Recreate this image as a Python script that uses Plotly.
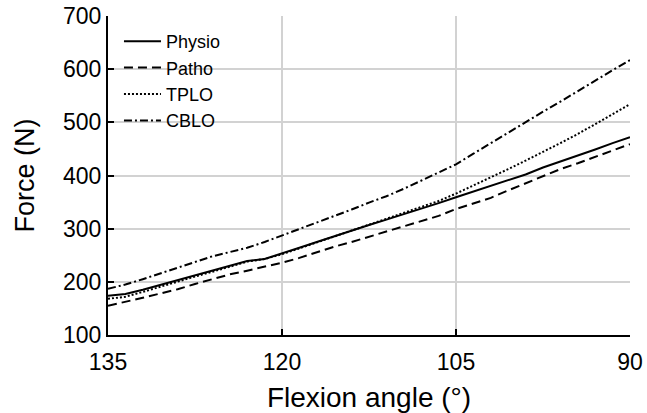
import plotly.graph_objects as go

angle = [135, 133.5, 132, 130.5, 129, 127.5, 126, 124.5, 123, 121.5, 120, 118.5, 117, 115.5,
         114, 112.5, 111, 109.5, 108, 106.5, 105, 103.5, 102, 100.5, 99, 97.5, 96, 94.5, 93, 91.5, 90]

physio = [174, 177, 185, 194, 203, 211, 220, 230, 239, 243, 253, 264, 275, 286,
          297, 307, 317, 327, 337, 348, 359, 370, 380, 391, 402, 415, 426, 438, 449, 461, 472]
patho = [155, 162, 170, 178, 186, 196, 205, 214, 221, 228, 236, 245, 256, 266,
         275, 285, 295, 305, 315, 324, 337, 348, 358, 372, 385, 399, 412, 423, 435, 447, 459]
tplo = [168, 172, 181, 191, 201, 210, 219, 229, 238, 243, 252, 263, 274, 285,
        296, 307, 318, 329, 340, 352, 366, 381, 396, 412, 428, 444, 461, 478, 497, 515, 534]
cblo = [187, 195, 205, 216, 226, 238, 248, 256, 264, 275, 287, 299, 311, 323,
        336, 349, 361, 375, 390, 405, 421, 441, 461, 481, 500, 520, 539, 559, 578, 598, 617]

series = [
    ("Physio", physio, "solid"),
    ("Patho", patho, "9px,5px"),
    ("TPLO", tplo, "2px,2px"),
    ("CBLO", cblo, "8px,3px,2px,3px"),
]

x_ticks = [135, 120, 105, 90]
y_ticks = [100, 200, 300, 400, 500, 600, 700]

fig = go.Figure()
for name, vals, dash in series:
    fig.add_trace(go.Scatter(x=angle, y=vals, mode="lines", name=name,
                             line=dict(color="black", width=2, dash=dash)))

font_family = "Liberation Sans, Arial, sans-serif"
fig.update_layout(
    width=647, height=413,
    margin=dict(l=108, r=17, t=16, b=78),
    plot_bgcolor="white", paper_bgcolor="white",
    font=dict(family=font_family, color="black"),
    showlegend=True,
    legend=dict(x=0.021, y=0.978, xanchor="left", yanchor="top",
                bgcolor="rgba(0,0,0,0)", font=dict(size=18, family=font_family),
                itemwidth=37),
)
fig.update_xaxes(
    range=[135, 90], tickvals=x_ticks, ticktext=[str(v) for v in x_ticks],
    showgrid=True, gridcolor="#d2d2d2", gridwidth=1.5,
    showline=True, linecolor="black", linewidth=2,
    ticks="inside", ticklen=6, tickwidth=2, tickcolor="black",
    tickfont=dict(size=23), ticklabelstandoff=5,
    title=dict(text="Flexion angle (°)", font=dict(size=28), standoff=15),
    zeroline=False, automargin=False,
)
fig.update_yaxes(
    range=[100, 700], tickvals=y_ticks,
    showgrid=True, gridcolor="#d2d2d2", gridwidth=1.5,
    showline=True, linecolor="black", linewidth=2,
    ticks="inside", ticklen=6, tickwidth=2, tickcolor="black",
    tickfont=dict(size=23), ticklabelstandoff=0,
    title=dict(text="Force (N)", font=dict(size=27), standoff=21),
    zeroline=False, automargin=False,
)
fig.write_html(
    "out.html",
    config={"displayModeBar": False},
    post_script="document.body.style.margin='0';document.body.style.overflow='hidden';",
)
